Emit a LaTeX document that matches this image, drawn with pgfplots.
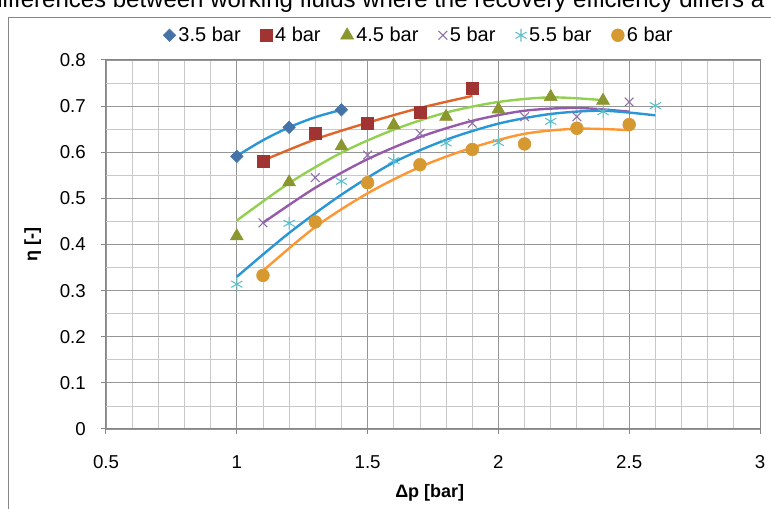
\documentclass[border=0pt]{standalone}
\usepackage{fontspec}
\setmainfont{Liberation Sans}
\usepackage{pgfplots}
\pgfplotsset{compat=1.18}
\definecolor{m1}{RGB}{69,114,167}
\definecolor{m2}{RGB}{160,52,50}
\definecolor{m3}{RGB}{139,150,46}
\definecolor{m4}{RGB}{140,110,165}
\definecolor{m5}{RGB}{95,190,200}
\definecolor{m6}{RGB}{214,152,48}
\definecolor{t1}{RGB}{41,150,215}
\definecolor{t2}{RGB}{225,100,40}
\definecolor{t3}{RGB}{146,208,80}
\definecolor{t4}{RGB}{150,90,170}
\definecolor{t6}{RGB}{255,150,50}
\definecolor{gmaj}{RGB}{150,150,150}
\definecolor{gmin}{RGB}{200,200,200}
\definecolor{frame}{RGB}{134,134,134}
\begin{document}
\begin{tikzpicture}
\useasboundingbox (0pt,0pt) rectangle (578.25pt,381.75pt);
\clip (0pt,0pt) rectangle (578.25pt,381.75pt);
\node[anchor=base west, inner sep=0pt, font=\fontsize{18}{21}\selectfont] at (-8.25pt,375.75pt) {differences between working fluids where the recovery efficiency differs a};
\draw[frame, line width=0.75pt] (6pt,-10pt) -- (6pt,368.25pt) -- (600pt,368.25pt);
\begin{axis}[
  at={(79.5pt,60pt)}, anchor=south west,
  scale only axis, width=490.5pt, height=276.75pt,
  xmin=0.5, xmax=3, ymin=0, ymax=0.8,
  xtick={0.5,1,1.5,2,2.5,3},
  ytick={0,0.1,0.2,0.3,0.4,0.5,0.6,0.7,0.8},
  minor x tick num=4, minor y tick num=1,
  grid=both,
  major grid style={draw=gmaj, line width=0.6pt},
  minor grid style={draw=gmin, line width=0.6pt},
  axis line style={draw=frame, line width=0.75pt},
  tick align=outside, xtick pos=bottom, ytick pos=left,
  major tick length=3.75pt, minor tick length=0pt,
  tick style={draw=frame, line width=0.75pt},
  /pgf/number format/assume math mode=true,
  /pgf/number format/fixed,
  tick label style={font=\fontsize{14}{16}\selectfont},
  xticklabel style={anchor=center, inner sep=0pt, yshift=-21pt},
  yticklabel style={anchor=east, inner sep=0pt, xshift=-11.25pt},
  xlabel={\textbf{Δp [bar]}},
  ylabel={\textbf{η [-]}},
  label style={font=\fontsize{13.5}{16}\selectfont},
  xlabel style={at={(axis description cs:0.495,-0.173)}, anchor=center},
  ylabel style={at={(axis description cs:-0.112,0.5)}, anchor=center},
  legend columns=6,
  legend style={at={(0.479,1.067)}, anchor=center, draw=none, fill=none,
    font=\fontsize{15}{17}\selectfont,
    /tikz/every even column/.append style={column sep=13pt}},
  legend image code/.code={\draw[mark repeat=2,mark phase=2,#1] plot coordinates {(0cm,0cm) (0.1cm,0cm) (0.2cm,0cm)};},
]
\addplot[only marks, mark=square*, mark options={rotate=45}, mark size=3.3pt, draw=m1, fill=m1] coordinates {(1.0,0.591)(1.2,0.654)(1.4,0.692)};
\addlegendentry{3.5 bar}
\addplot[only marks, mark=square*, mark size=4.4pt, draw=m2, fill=m2] coordinates {(1.1,0.581)(1.3,0.641)(1.5,0.663)(1.7,0.686)(1.9,0.738)};
\addlegendentry{4 bar}
\addplot[only marks, mark=triangle*, mark size=5.6pt, draw=m3, fill=m3] coordinates {(1.0,0.418)(1.2,0.535)(1.4,0.613)(1.6,0.659)(1.8,0.677)(2.0,0.693)(2.2,0.720)(2.4,0.712)};
\addlegendentry{4.5 bar}
\addplot[only marks, mark=x, mark size=4.6pt, draw=m4, line width=0.8pt] coordinates {(1.1,0.447)(1.3,0.545)(1.5,0.594)(1.7,0.641)(1.9,0.663)(2.1,0.677)(2.3,0.677)(2.5,0.709)};
\addlegendentry{5 bar}
\addplot[only marks, mark=asterisk, mark size=4.8pt, draw=m5, line width=0.8pt] coordinates {(1.0,0.314)(1.2,0.446)(1.4,0.537)(1.6,0.582)(1.8,0.620)(2.0,0.621)(2.2,0.667)(2.4,0.688)(2.6,0.701)};
\addlegendentry{5.5 bar}
\addplot[only marks, mark=*, mark size=4.8pt, draw=m6, fill=m6] coordinates {(1.1,0.333)(1.3,0.449)(1.5,0.534)(1.7,0.573)(1.9,0.606)(2.1,0.618)(2.3,0.652)(2.5,0.660)};
\addlegendentry{6 bar}
\addplot[forget plot, smooth, no marks, draw=t1, line width=1.8pt] coordinates {(1.0,0.592)(1.1,0.626)(1.2,0.654)(1.3,0.676)(1.4,0.692)};
\addplot[forget plot, smooth, no marks, draw=t2, line width=1.8pt] coordinates {(1.1,0.582)(1.3,0.628)(1.5,0.664)(1.7,0.696)(1.9,0.722)};
\addplot[forget plot, smooth, no marks, draw=t3, line width=1.8pt] coordinates {(1.0,0.452)(1.2,0.533)(1.4,0.599)(1.6,0.649)(1.8,0.686)(2.0,0.709)(2.2,0.719)(2.4,0.713)};
\addplot[forget plot, smooth, no marks, draw=t4, line width=1.8pt] coordinates {(1.1,0.447)(1.3,0.523)(1.5,0.585)(1.7,0.633)(1.9,0.668)(2.1,0.690)(2.3,0.696)(2.5,0.688)};
\addplot[forget plot, smooth, no marks, draw=t1, line width=1.8pt] coordinates {(1.0,0.330)(1.2,0.425)(1.4,0.508)(1.6,0.578)(1.8,0.627)(2.0,0.662)(2.2,0.683)(2.4,0.690)(2.6,0.680)};
\addplot[forget plot, smooth, no marks, draw=t6, line width=1.8pt] coordinates {(1.1,0.343)(1.3,0.438)(1.5,0.511)(1.7,0.568)(1.9,0.610)(2.1,0.640)(2.3,0.651)(2.5,0.648)};
\end{axis}
\end{tikzpicture}
\end{document}
